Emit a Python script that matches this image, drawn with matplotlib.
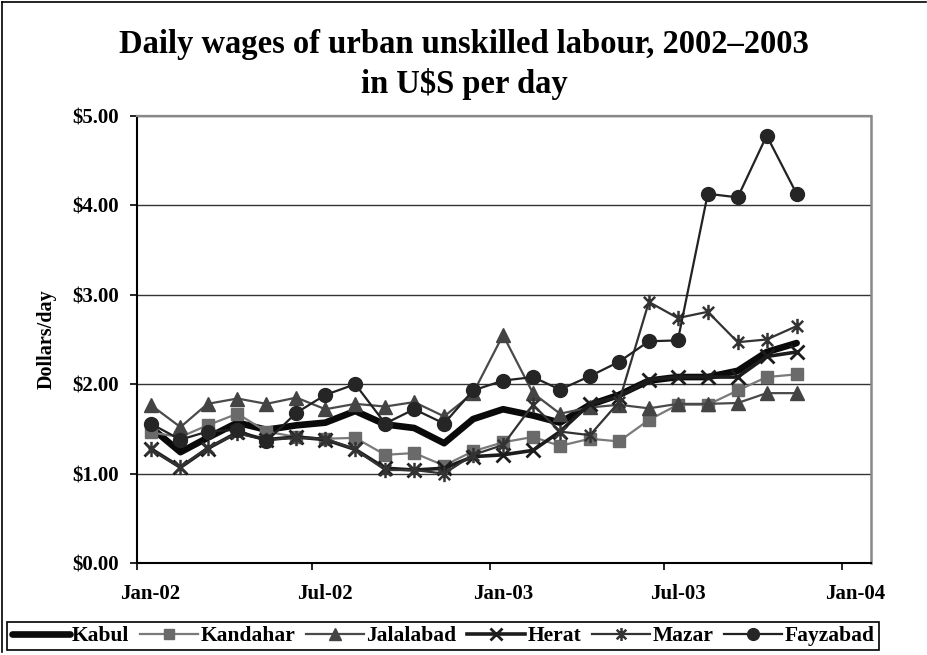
import matplotlib
matplotlib.use("Agg")
import matplotlib.pyplot as plt
import matplotlib.dates as mdates
from matplotlib.path import Path
from matplotlib.lines import Line2D
import numpy as np
import datetime as dt

# ---------------- data ----------------
months = ["2002-01", "2002-02", "2002-03", "2002-04", "2002-05", "2002-06",
          "2002-07", "2002-08", "2002-09", "2002-10", "2002-11", "2002-12",
          "2003-01", "2003-02", "2003-03", "2003-04", "2003-05", "2003-06",
          "2003-07", "2003-08", "2003-09", "2003-10", "2003-11"]

kabul     = [1.52, 1.24, 1.40, 1.57, 1.49, 1.54, 1.57, 1.70, 1.55, 1.51, 1.34, 1.61,
             1.72, 1.65, 1.57, 1.77, 1.88, 2.04, 2.08, 2.08, 2.15, 2.36, 2.46]
kandahar  = [1.46, 1.41, 1.54, 1.67, 1.47, 1.41, 1.39, 1.40, 1.21, 1.23, 1.09, 1.25,
             1.35, 1.41, 1.31, 1.39, 1.36, 1.60, 1.77, 1.77, 1.93, 2.08, 2.11]
jalalabad = [1.77, 1.52, 1.78, 1.84, 1.78, 1.85, 1.72, 1.78, 1.75, 1.80, 1.64, 1.90,
             2.55, 1.90, 1.67, 1.74, 1.77, 1.73, 1.78, 1.78, 1.79, 1.90, 1.90]
herat     = [1.28, 1.07, 1.28, 1.46, 1.38, 1.41, 1.38, 1.27, 1.06, 1.04, 1.06, 1.19,
             1.21, 1.26, 1.47, 1.78, 1.86, 2.05, 2.08, 2.08, 2.08, 2.31, 2.36]
mazar     = [1.27, 1.07, 1.29, 1.45, 1.38, 1.40, 1.39, 1.27, 1.04, 1.04, 1.00, 1.21,
             1.32, 1.77, 1.47, 1.43, 1.80, 2.92, 2.74, 2.81, 2.47, 2.50, 2.65]
fayzabad  = [1.56, 1.38, 1.47, 1.49, 1.36, 1.68, 1.88, 2.00, 1.56, 1.72, 1.56, 1.93,
             2.04, 2.08, 1.94, 2.09, 2.25, 2.48, 2.49, 4.13, 4.09, 4.78, 4.13]

series_names = ["Kabul", "Kandahar", "Jalalabad", "Herat", "Mazar", "Fayzabad"]
tick_dates = ["2002-01", "2002-07", "2003-01", "2003-07", "2004-01"]
tick_labels = ["Jan-02", "Jul-02", "Jan-03", "Jul-03", "Jan-04"]
y_ticks = [0, 1, 2, 3, 4, 5]

title1 = "Daily wages of urban unskilled labour, 2002\u20132003"
title2 = "in U$S per day"
ylabel = "Dollars/day"

# ---------------- helpers ----------------
def mid(m):
    y, mo = m.split("-")
    return dt.date(int(y), int(mo), 15)

def first(m):
    y, mo = m.split("-")
    return dt.date(int(y), int(mo), 1)

x = [mid(m) for m in months]

plt.rcParams['font.family'] = ['Liberation Serif', 'DejaVu Serif']
plt.rcParams['font.weight'] = 'bold'

W, H = 928, 655
fig = plt.figure(figsize=(W / 100, H / 100), dpi=100)
L, R, T, B = 137, 871, 116, 563
ax = fig.add_axes([L / W, 1 - B / H, (R - L) / W, (B - T) / H])

star = Path([(-1, -1), (1, 1), (-1, 1), (1, -1), (0, -1.35), (0, 1.35)],
            [Path.MOVETO, Path.LINETO, Path.MOVETO, Path.LINETO, Path.MOVETO, Path.LINETO])

styles = {
    "Kabul":     dict(color="#0a0a0a", lw=4.8, marker=None, solid_capstyle='round'),
    "Kandahar":  dict(color="#7a7a7a", lw=1.6, marker='s', ms=8, mfc="#6a6a6a", mec="#6a6a6a"),
    "Jalalabad": dict(color="#4a4a4a", lw=1.6, marker='^', ms=9.5, mfc="#444444", mec="#444444"),
    "Herat":     dict(color="#1c1c1c", lw=2.6, marker='x', ms=10, mew=2.0, mec="#1c1c1c"),
    "Mazar":     dict(color="#333333", lw=1.6, marker=star, ms=11, mew=1.8, mec="#333333", mfc='none'),
    "Fayzabad":  dict(color="#222222", lw=1.6, marker='o', ms=10, mfc="#252525", mec="#252525"),
}
data = [kabul, kandahar, jalalabad, herat, mazar, fayzabad]

handles = []
for i, (name, vals) in enumerate(zip(series_names, data)):
    st = dict(styles[name])
    ln, = ax.plot(x, vals, label=name, zorder=3 + i, **st)
    handles.append(ln)

# axes
ax.set_ylim(0, 5)
ax.set_yticks(y_ticks)
ax.set_yticklabels(["${:.2f}".format(v) for v in y_ticks])
x0 = dt.date(2002, 1, 1)
ax.set_xlim(mdates.date2num(x0), mdates.date2num(dt.date(2004, 1, 31)))
ax.set_xticks([mdates.date2num(first(m)) for m in tick_dates])
ax.set_xticklabels([])
ax.set_xticks([mdates.date2num(mid(m)) for m in tick_dates], minor=True)
ax.set_xticklabels(tick_labels, minor=True)
ax.tick_params(axis='x', which='minor', length=0, pad=15, labelsize=15)
ax.tick_params(axis='x', which='major', direction='out', length=5, width=1.2, color='black')
ax.tick_params(axis='y', direction='out', length=5, width=1.2, pad=8, labelsize=15)

for lbl in ax.get_xticklabels(minor=True) + ax.get_yticklabels():
    lbl.set_fontweight('bold')

ax.grid(axis='y', color='#333333', lw=1.0, zorder=0)
ax.set_axisbelow(True)
ax.spines['left'].set_color('black')
ax.spines['bottom'].set_color('black')
ax.spines['left'].set_linewidth(1.5)
ax.spines['bottom'].set_linewidth(1.5)
ax.spines['top'].set_color('#888888')
ax.spines['right'].set_color('#888888')
ax.spines['top'].set_linewidth(1.6)
ax.spines['right'].set_linewidth(1.8)

# titles
fig.text(464 / W, 1 - 44 / H, title1, ha='center', va='center', fontsize=23.5, fontweight='bold')
fig.text(464 / W, 1 - 84 / H, title2, ha='center', va='center', fontsize=23.5, fontweight='bold')
fig.text(47 / W, 1 - 339 / H, ylabel, ha='center', va='center', rotation=90, fontsize=14.5, fontweight='bold')

# legend
leg = fig.legend(handles=handles, labels=series_names, loc='center',
                 bbox_to_anchor=(443 / W, 1 - 636 / H), ncol=6, frameon=True,
                 fancybox=False, edgecolor='black', framealpha=1,
                 prop={'size': 15.5, 'weight': 'bold'},
                 handlelength=2.7, handletextpad=0.1, columnspacing=0.5,
                 borderpad=0.2, borderaxespad=0, markerscale=0.85)
leg.get_frame().set_linewidth(1.2)

# figure frame (top and left)
fig.add_artist(Line2D([2 / W, 2 / W], [1 - 2 / H, 1 - 652 / H], transform=fig.transFigure, color='black', lw=1.2))
fig.add_artist(Line2D([2 / W, 926 / W], [1 - 2 / H, 1 - 2 / H], transform=fig.transFigure, color='black', lw=1.2))

fig.savefig("out.png", dpi=100, facecolor='white')
